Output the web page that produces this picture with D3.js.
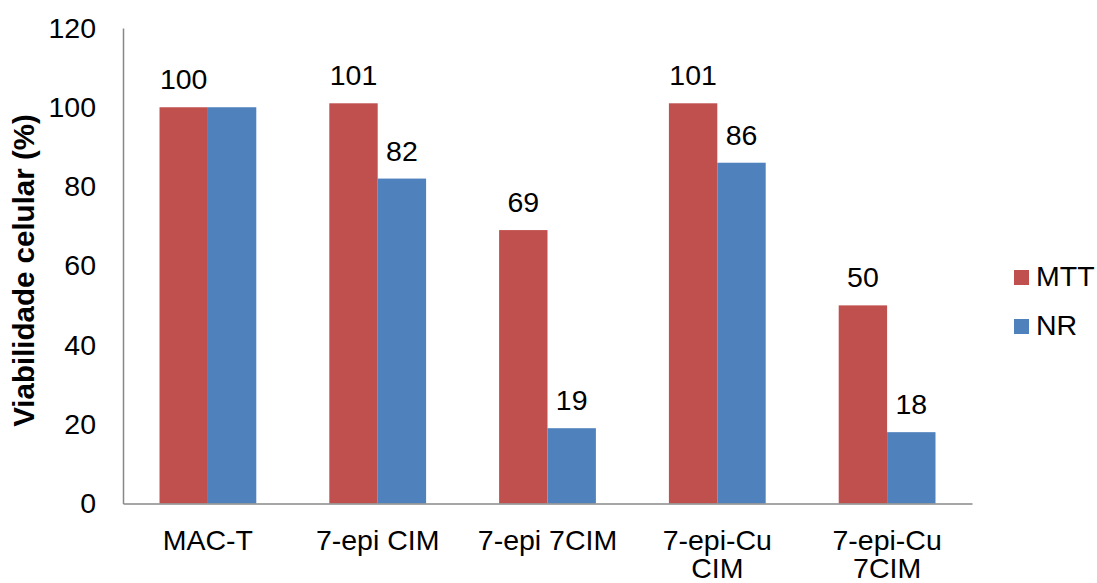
<!DOCTYPE html>
<html>
<head>
<meta charset="utf-8">
<script src="https://cdn.jsdelivr.net/npm/d3@7"></script>
<style>
  html, body { margin: 0; padding: 0; background: #fff; }
  svg { display: block; font-family: "Liberation Sans", Arial, sans-serif; }
</style>
</head>
<body>
<svg id="chart" width="1097" height="583"></svg>
<script>
// Cell viability per treatment, two assays
const categories = [["MAC-T"], ["7-epi CIM"], ["7-epi 7CIM"], ["7-epi-Cu", "CIM"], ["7-epi-Cu", "7CIM"]];
const seriesNames = ["MTT", "NR"];
const mttValues = [100, 101, 69, 101, 50];
const nrValues = [100, 82, 19, 86, 18];
// Value labels shown above bars (null = no label)
const mttLabels = ["100", "101", "69", "101", "50"];
const nrLabels = [null, "82", "19", "86", "18"];
const yTicks = [0, 20, 40, 60, 80, 100, 120];
const colors = ["#C0504D", "#4F81BD"];

const svg = d3.select("#chart");
const plotLeft = 123, plotRight = 972, plotTop = 28, plotBottom = 503.5;
const fontSize = 28.5;

const x = d3.scaleBand()
  .domain(categories.map((d, i) => i))
  .range([plotLeft, plotRight])
  .paddingInner(0.43)
  .paddingOuter(0.215);

const xs = d3.scaleBand().domain(seriesNames).range([0, x.bandwidth()]);

const y = d3.scaleLinear().domain([0, 120]).range([plotBottom, plotTop]);

const series = [mttValues, nrValues];
const labels = [mttLabels, nrLabels];

// bars
seriesNames.forEach((name, si) => {
  svg.append("g").selectAll("rect")
    .data(series[si])
    .join("rect")
    .attr("x", (d, i) => x(i) + xs(name))
    .attr("y", d => y(d))
    .attr("width", xs.bandwidth())
    .attr("height", d => y(0) - y(d))
    .attr("fill", colors[si]);
});

// value labels
seriesNames.forEach((name, si) => {
  svg.append("g").selectAll("text")
    .data(series[si].map((v, i) => ({ v, i, t: labels[si][i] })).filter(d => d.t !== null))
    .join("text")
    .attr("x", d => x(d.i) + xs(name) + xs.bandwidth() / 2)
    .attr("y", d => y(d.v) - 18)
    .attr("text-anchor", "middle")
    .attr("font-size", fontSize)
    .attr("fill", "#000")
    .text(d => d.t);
});

// y axis
const yAxis = d3.axisLeft(y).tickValues(yTicks).tickSize(0).tickPadding(27);
const gy = svg.append("g").attr("transform", `translate(${plotLeft},0)`).call(yAxis);
gy.select(".domain").attr("stroke", "#888").attr("stroke-width", 1.5);
gy.selectAll("text").attr("font-size", fontSize).attr("fill", "#000")
  .attr("font-family", "Liberation Sans, Arial, sans-serif");

// x axis
const xAxis = d3.axisBottom(x).tickSize(0).tickFormat(() => "");
const gx = svg.append("g").attr("transform", `translate(0,${plotBottom})`).call(xAxis);
gx.select(".domain").attr("stroke", "#888").attr("stroke-width", 1.5);

// category labels (multi-line)
const catG = svg.append("g");
categories.forEach((lines, i) => {
  const t = catG.append("text")
    .attr("x", x(i) + x.bandwidth() / 2)
    .attr("y", 549.5)
    .attr("text-anchor", "middle")
    .attr("font-size", fontSize)
    .attr("fill", "#000");
  lines.forEach((ln, li) => {
    t.append("tspan")
      .attr("x", x(i) + x.bandwidth() / 2)
      .attr("dy", li === 0 ? 0 : 28)
      .text(ln);
  });
});

// y axis title
svg.append("text")
  .attr("transform", "translate(34,270.5) rotate(-90)")
  .attr("text-anchor", "middle")
  .attr("font-size", 29.5)
  .attr("font-weight", "bold")
  .attr("fill", "#000")
  .text("Viabilidade celular (%)");

// legend
const legend = svg.append("g").attr("transform", "translate(1014,270)");
seriesNames.forEach((name, si) => {
  const g = legend.append("g").attr("transform", `translate(0,${si * 49})`);
  g.append("rect").attr("width", 15).attr("height", 15).attr("fill", colors[si]);
  g.append("text").attr("x", 22).attr("y", 16).attr("font-size", fontSize).attr("fill", "#000").text(name);
});
</script>
</body>
</html>
